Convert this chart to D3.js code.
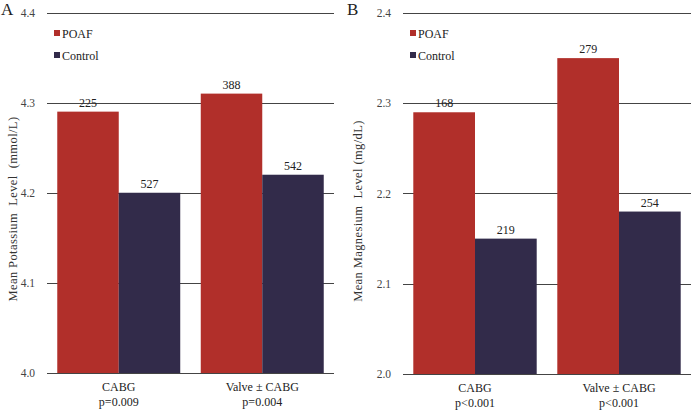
<!DOCTYPE html>
<html><head><meta charset="utf-8">
<script src="https://cdn.jsdelivr.net/npm/d3@7"></script>
<style>body{margin:0;background:#fff}svg{display:block}</style>
</head><body>
<svg id="c" width="691" height="410"></svg>
<script>
const categories = ["CABG", "Valve \u00b1 CABG"];
const seriesNames = ["POAF", "Control"];
const colors = ["#b12f2a", "#322b4a"];
const potassiumPOAF = [4.29, 4.31];
const potassiumControl = [4.20, 4.22];
const potassiumN = [[225, 527], [388, 542]];
const potassiumP = ["p=0.009", "p=0.004"];
const potassiumTicks = [4.0, 4.1, 4.2, 4.3, 4.4];
const magnesiumPOAF = [2.29, 2.35];
const magnesiumControl = [2.15, 2.18];
const magnesiumN = [[168, 219], [279, 254]];
const magnesiumP = ["p<0.001", "p<0.001"];
const magnesiumTicks = [2.0, 2.1, 2.2, 2.3, 2.4];

const svg = d3.select("#c");
const font = "'Liberation Serif', 'Times New Roman', serif";

function panel(o) {
  const g = svg.append("g");
  const y = d3.scaleLinear().domain([o.ticks[0], o.ticks[o.ticks.length-1]]).range([o.bottom, o.top]);
  const x0 = d3.scaleBand().domain(categories).range([o.left, o.right]).paddingInner(0.143).paddingOuter(0.0715);
  const x1 = d3.scaleBand().domain(seriesNames).range([0, x0.bandwidth()]);
  g.selectAll("line.grid").data(o.ticks).join("line")
    .attr("x1", o.left).attr("x2", o.right)
    .attr("y1", d => Math.round(y(d)) + 0.5).attr("y2", d => Math.round(y(d)) + 0.5)
    .attr("stroke", "#444").attr("stroke-width", 1);
  g.selectAll("text.tick").data(o.ticks).join("text")
    .attr("x", o.left - 12).attr("y", d => y(d) + 4)
    .attr("text-anchor", "end").attr("font-family", font).attr("font-size", 11.5).attr("fill", "#444")
    .text(d => d.toFixed(1));
  const data = [];
  categories.forEach((c, i) => {
    data.push({c, s: seriesNames[0], v: o.a[i], n: o.n[i][0]});
    data.push({c, s: seriesNames[1], v: o.b[i], n: o.n[i][1]});
  });
  g.selectAll("rect.bar").data(data).join("rect")
    .attr("x", d => x0(d.c) + x1(d.s)).attr("width", x1.bandwidth())
    .attr("y", d => y(d.v)).attr("height", d => y(o.ticks[0]) - y(d.v))
    .attr("fill", d => colors[seriesNames.indexOf(d.s)]);
  g.selectAll("text.val").data(data).join("text")
    .attr("x", d => x0(d.c) + x1(d.s) + x1.bandwidth()/2).attr("y", d => y(d.v) - 5)
    .attr("text-anchor", "middle").attr("font-family", font).attr("font-size", 12).attr("fill", "#222")
    .text(d => d.n);
  g.append("line").attr("x1", o.left).attr("x2", o.right)
    .attr("y1", Math.round(o.bottom) + 0.5).attr("y2", Math.round(o.bottom) + 0.5)
    .attr("stroke", "#444");
  categories.forEach((c, i) => {
    const cx = x0(c) + x0.bandwidth()/2;
    g.append("text").attr("x", cx).attr("y", o.bottom + 18).attr("text-anchor", "middle")
      .attr("font-family", font).attr("font-size", 12).attr("fill", "#222").text(c);
    g.append("text").attr("x", cx).attr("y", o.bottom + 33).attr("text-anchor", "middle")
      .attr("font-family", font).attr("font-size", 12).attr("fill", "#222").text(o.p[i]);
  });
  seriesNames.forEach((s, i) => {
    g.append("rect").attr("x", o.left + 7).attr("y", 30 + i*22).attr("width", 6).attr("height", 6).attr("fill", colors[i]);
    g.append("text").attr("x", o.left + 15).attr("y", 37.5 + i*22)
      .attr("font-family", font).attr("font-size", 12).attr("fill", "#222").text(s);
  });
  g.append("text").attr("x", o.letterX).attr("y", 15).attr("font-family", font).attr("font-size", 17).attr("fill", "#222").text(o.letter);
  g.append("text").attr("transform", `translate(${o.titleX},${o.titleY}) rotate(-90)`)
    .attr("text-anchor", "middle").attr("font-family", font).attr("font-size", 12.5).attr("fill", "#333")
    .attr("letter-spacing", 0.4)
    .attr("xml:space", "preserve").style("white-space", "pre").text(o.title);
}

panel({left: 47, right: 334, top: 12.5, bottom: 373, ticks: potassiumTicks, a: potassiumPOAF, b: potassiumControl,
  n: potassiumN, p: potassiumP, letter: "A", letterX: 1, titleX: 17, titleY: 209, title: "Mean Potassium  Level  (mmol/L)"});
panel({left: 403, right: 691, top: 13, bottom: 374, ticks: magnesiumTicks, a: magnesiumPOAF, b: magnesiumControl,
  n: magnesiumN, p: magnesiumP, letter: "B", letterX: 347, titleX: 362, titleY: 211, title: "Mean Magnesium  Level (mg/dL)"});
</script>
</body></html>
